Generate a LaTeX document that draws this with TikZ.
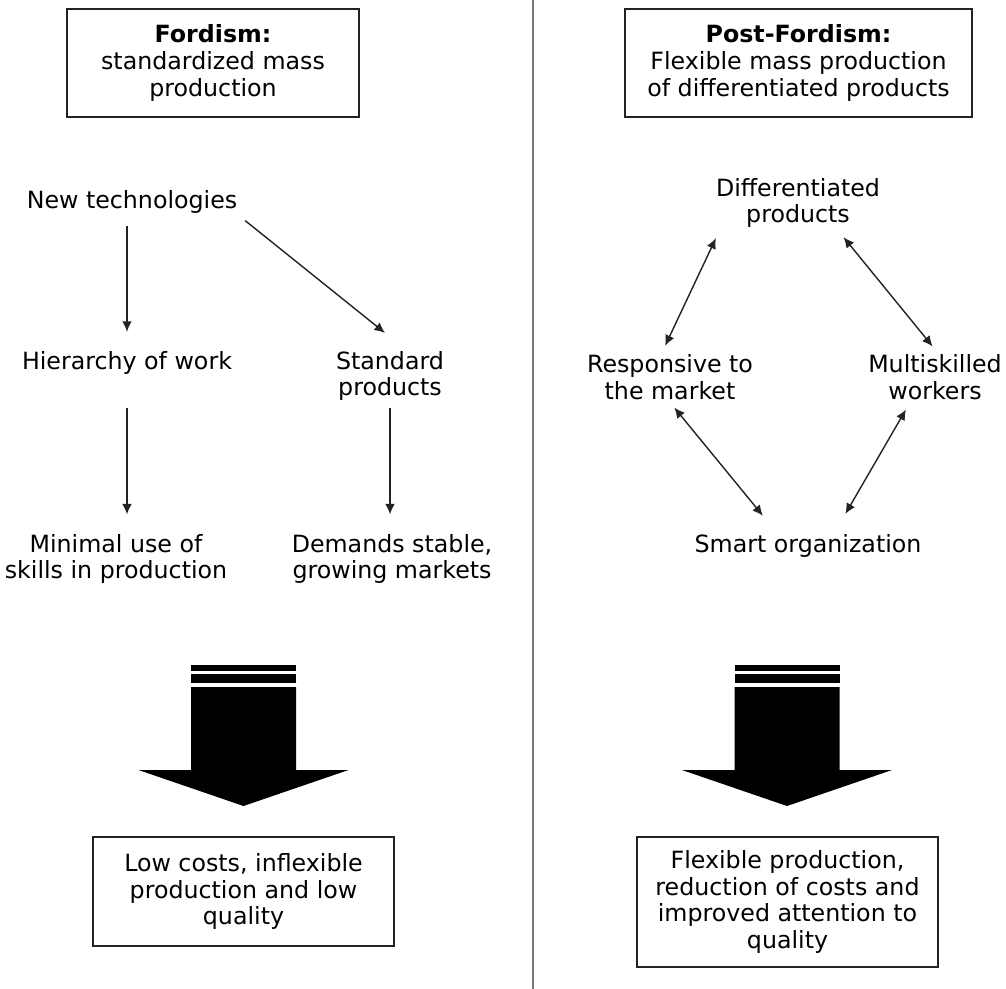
\documentclass[tikz,border=0pt]{standalone}
\usepackage{fontspec}
\setmainfont{DejaVu Sans}
\usepackage{tikz}
\usetikzlibrary{arrows.meta, positioning}
\definecolor{linegray}{RGB}{35,35,35}
\definecolor{splitgray}{RGB}{120,120,120}

\begin{document}
\begin{tikzpicture}[
      x=0.02cm, y=-0.02cm,
      font=\fontsize{13.5pt}{15.3pt}\selectfont,
      lbl/.style={align=center, inner sep=2pt},
      box/.style={rectangle, draw=linegray, line width=1pt, align=center, inner sep=2pt},
      one/.style={-{Latex[length=6pt, width=5.5pt]}, line width=0.8pt, linegray},
      two/.style={{Latex[length=6pt, width=5.5pt]}-{Latex[length=6pt, width=5.5pt]}, line width=0.8pt, linegray},
    ]
    \useasboundingbox[fill=white] (0,0) rectangle (1006,989);

    % divider
    \draw[splitgray, line width=1.1pt] (533,0) -- (533,989);

    % Fordism side
    \node[box, minimum width=5.84cm, minimum height=2.16cm] (fordbox) at (213,63) {\textbf{Fordism:}\\standardized mass\\production};
    \node[lbl] (newtech) at (132,202) {New technologies};
    \node[lbl] (hier) at (127,363) {Hierarchy of work};
    \node[lbl] (std) at (390,376) {Standard\\products};
    \node[lbl] (minimal) at (116,559) {Minimal use of\\skills in production};
    \node[lbl] (demands) at (392,559) {Demands stable,\\growing markets};
    \node[box, minimum width=6.02cm, minimum height=2.18cm] (lowbox) at (243.5,891.5) {Low costs, inflexible\\production and low\\quality};

    \draw[one, shorten <=5pt, shorten >=9pt] (hier |- newtech.south) -- (hier.north);
    \draw[one, shorten <=3pt, shorten >=13pt] (newtech.south east) -- (std.66);
    \draw[one, shorten <=17pt, shorten >=9pt] (hier.south) -- (hier.south |- minimal.north);
    \draw[one, shorten <=1.7pt, shorten >=9pt] (std.south) -- (std.south |- demands.north);

    % Post-Fordism side
    \node[box, minimum width=6.94cm, minimum height=2.16cm] (postbox) at (798.5,63) {\textbf{Post-Fordism:}\\Flexible mass production\\of differentiated products};
    \node[lbl] (diff) at (798,203) {Differentiated\\products};
    \node[lbl] (resp) at (670,377) {Responsive to\\the market};
    \node[lbl] (multi) at (935,377) {Multiskilled\\workers};
    \node[lbl] (smart) at (808,546) {Smart organization};
    \node[box, minimum width=6.02cm, minimum height=2.6cm] (flexbox) at (787.5,902) {Flexible production,\\reduction of costs and\\improved attention to\\quality};

    \draw[two, shorten <=4pt, shorten >=3pt] (diff.-160) -- (resp.105);
    \draw[two, shorten <=4pt, shorten >=3pt] (diff.-35) -- (multi.88);
    \draw[two, shorten <=3pt, shorten >=11pt] (resp.-88) -- (smart.155);
    \draw[two, shorten <=4pt, shorten >=11pt] (multi.-134) -- (smart.29);

    % big arrows
    \foreach \cx in {243.5,787} {
      \fill (\cx-52.5,665) rectangle (\cx+52.5,671);
      \fill (\cx-52.5,674) rectangle (\cx+52.5,683);
      \fill (\cx-52.5,687) -- (\cx+52.5,687) -- (\cx+52.5,770) -- (\cx+105,770)
        -- (\cx,806) -- (\cx-105,770) -- (\cx-52.5,770) -- cycle;
    }
  \end{tikzpicture}
\end{document}
